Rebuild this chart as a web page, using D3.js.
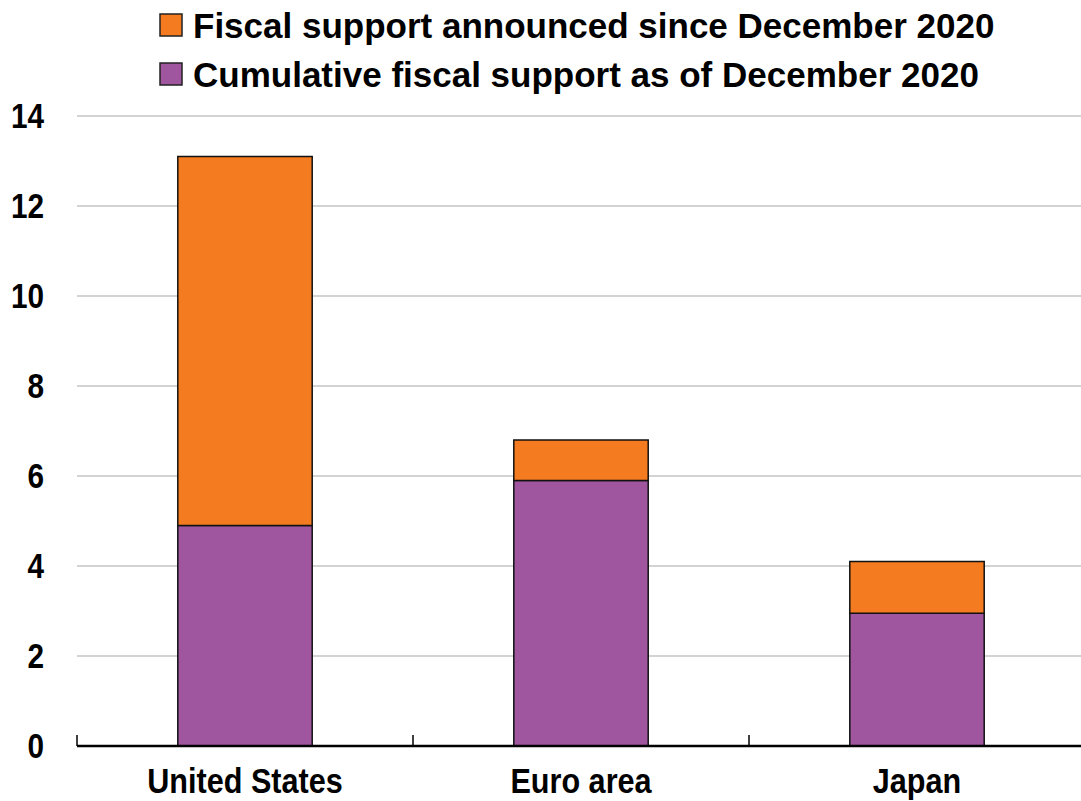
<!DOCTYPE html>
<html>
<head>
<meta charset="utf-8">
<script src="https://cdn.jsdelivr.net/npm/d3@7/dist/d3.min.js"></script>
<style>
  html, body { margin: 0; padding: 0; background: #fff; }
  svg text { font-family: "Liberation Sans Narrow", "Arial Narrow", "Liberation Sans", Arial, sans-serif; font-weight: bold; fill: #000; }
</style>
</head>
<body>
<svg id="chart" width="1081" height="801"></svg>
<script>
// Fiscal support by economy, % of GDP
const categories = ["United States", "Euro area", "Japan"];
const cumulativeDec2020 = [4.9, 5.9, 2.95];
const announcedSinceDec2020 = [8.2, 0.9, 1.15];
const yTicks = [0, 2, 4, 6, 8, 10, 12, 14];
const seriesNames = ["Cumulative fiscal support as of December 2020", "Fiscal support announced since December 2020"];
const seriesColors = ["#A0559F", "#F47B20"];

const svg = d3.select("#chart");
const width = 1081;
const plotLeft = 77, plotRight = 1085;
const condense = 0.85; // narrow look for axis labels

const x = d3.scaleBand().domain(categories).range([plotLeft, plotRight]).paddingInner(0.6).paddingOuter(0.3);
const y = d3.scaleLinear().domain([0, 14]).range([746, 116]);

// gridlines
svg.append("g").selectAll("line").data(yTicks.filter(d => d > 0)).join("line")
  .attr("x1", plotLeft).attr("x2", width)
  .attr("y1", d => y(d)).attr("y2", d => y(d))
  .attr("stroke", "#d3d3d3").attr("stroke-width", 2);

// stacked bars
const rows = categories.map((c, i) => ({ cat: c, base: cumulativeDec2020[i], add: announcedSinceDec2020[i] }));
const stack = d3.stack().keys(["base", "add"])(rows);
svg.append("g").selectAll("g").data(stack).join("g")
  .attr("fill", (d, i) => seriesColors[i])
  .selectAll("rect").data(d => d).join("rect")
  .attr("x", d => x(d.data.cat))
  .attr("width", x.bandwidth())
  .attr("y", d => y(d[1]))
  .attr("height", d => y(d[0]) - y(d[1]))
  .attr("stroke", "#111").attr("stroke-width", 1.5);

// y axis labels
svg.append("g").selectAll("text").data(yTicks).join("text")
  .attr("transform", d => `translate(44,${y(d) + 12}) scale(${condense},1)`)
  .attr("text-anchor", "end")
  .attr("font-size", 35)
  .text(d => d);

// x axis: category labels, baseline and dividers
const xAxis = d3.axisBottom(x).tickSize(0).tickPadding(0);
const gx = svg.append("g").attr("transform", `translate(0,${y(0)})`).call(xAxis);
gx.select(".domain").remove();
gx.selectAll("text")
  .attr("y", null).attr("dy", null)
  .attr("transform", `translate(0,47) scale(${condense},1)`)
  .attr("font-size", 36)
  .style("font-family", null);
svg.append("line").attr("x1", plotLeft).attr("x2", width).attr("y1", y(0)).attr("y2", y(0))
  .attr("stroke", "#000").attr("stroke-width", 2.5);
const dividers = categories.map((c, i) => x(c) - x.step() * x.paddingOuter());
svg.append("g").selectAll("line").data(dividers).join("line")
  .attr("x1", d => d).attr("x2", d => d)
  .attr("y1", y(0)).attr("y2", y(0) - 11)
  .attr("stroke", "#000").attr("stroke-width", 1.5);

// legend
const legendItems = [1, 0];
const lg = svg.append("g").selectAll("g").data(legendItems).join("g")
  .attr("transform", (d, i) => `translate(160,${14 + i * 49})`);
lg.append("rect").attr("width", 22).attr("height", 22)
  .attr("fill", d => seriesColors[d]).attr("stroke", "#222").attr("stroke-width", 1.5);
lg.append("text").attr("x", 33).attr("y", 24).attr("font-size", 35)
  .text(d => seriesNames[d]);
</script>
</body>
</html>
